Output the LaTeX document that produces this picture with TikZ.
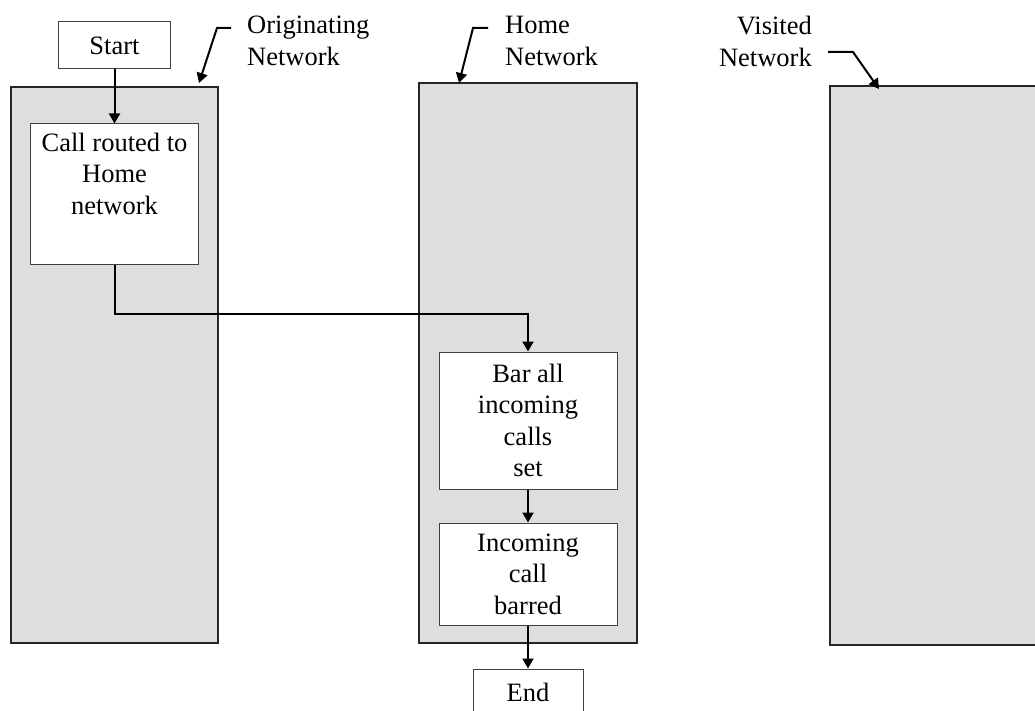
\documentclass[tikz,border=0pt]{standalone}
\usepackage{fontspec}
\setmainfont{Liberation Serif}
\usepackage{tikz}
\usetikzlibrary{arrows.meta, positioning}
\definecolor{netgray}{HTML}{DEDEDE}
\tikzstyle{network} = [rectangle, draw=black!85, line width=2pt, fill=netgray, inner sep=0pt]
\tikzstyle{block} = [rectangle, draw=black!75, line width=1pt, fill=white, align=center, inner sep=3pt]
\tikzstyle{tag} = [inner sep=0pt]
\tikzstyle{arrow} = [line width=2pt, -{Triangle[length=10pt,width=11pt]}]

\begin{document}
\begin{tikzpicture}[x=1pt, y=-1pt, font=\fontsize{26.5}{31.5}\selectfont]
		\clip (0,0) rectangle (1035,711);
		% network columns
		\node (OrigNet) [network, minimum width=207, minimum height=556] at (114.5,365) {};
		\node (HomeNet) [network, minimum width=218, minimum height=560] at (528,363) {};
		\node (VisitedNet) [network, minimum width=218, minimum height=559] at (939,365.5) {};
		\node (OrigLabel) [tag, align=left, anchor=north west] at (247,16) {Originating\\Network};
		\node (HomeLabel) [tag, align=left, anchor=north west] at (505,16) {Home\\Network};
		\node (VisitedLabel) [tag, align=right, anchor=north east] at (812,16) {Visited\\Network};
		\coordinate (OrigTail) at (231,28);
		\coordinate (OrigTip) at (199,83);
		\coordinate (HomeTail) at (488,28);
		\coordinate (HomeTip) at (459,83);
		\coordinate (VisitedTail) at (828,52);
		\coordinate (VisitedTip) at (879,89);
		\draw [arrow] (OrigTail) -- ++(-14,0) -- (OrigTip);
		\draw [arrow] (HomeTail) -- ++(-15,0) -- (HomeTip);
		\draw [arrow] (VisitedTail) -- ++(25,0) -- (VisitedTip);
		% flow
		\node (Start) [block, minimum width=112, minimum height=47] at (114.5,45.5) {Start};
		\node (CallRouted) [block, minimum width=168, minimum height=140, below = 54pt of Start] {Call routed to\\Home\\network\\\strut};
		\node (BarAll) [block, minimum width=178, minimum height=137] at (528,420.5) {Bar all\\incoming\\calls\\set};
		\node (IncomingBarred) [block, minimum width=178, minimum height=102, below = 33pt of BarAll] {Incoming\\call\\barred};
		\node (End) [block, minimum width=110, minimum height=47, below = 43pt of IncomingBarred] {End};
		\draw [arrow] (Start) -- (CallRouted);
		\draw [arrow] (CallRouted.south) -- ++(0,49) -| (BarAll.north);
		\draw [arrow] (BarAll) -- (IncomingBarred);
		\draw [arrow] (IncomingBarred) -- (End);
\end{tikzpicture}
\end{document}
